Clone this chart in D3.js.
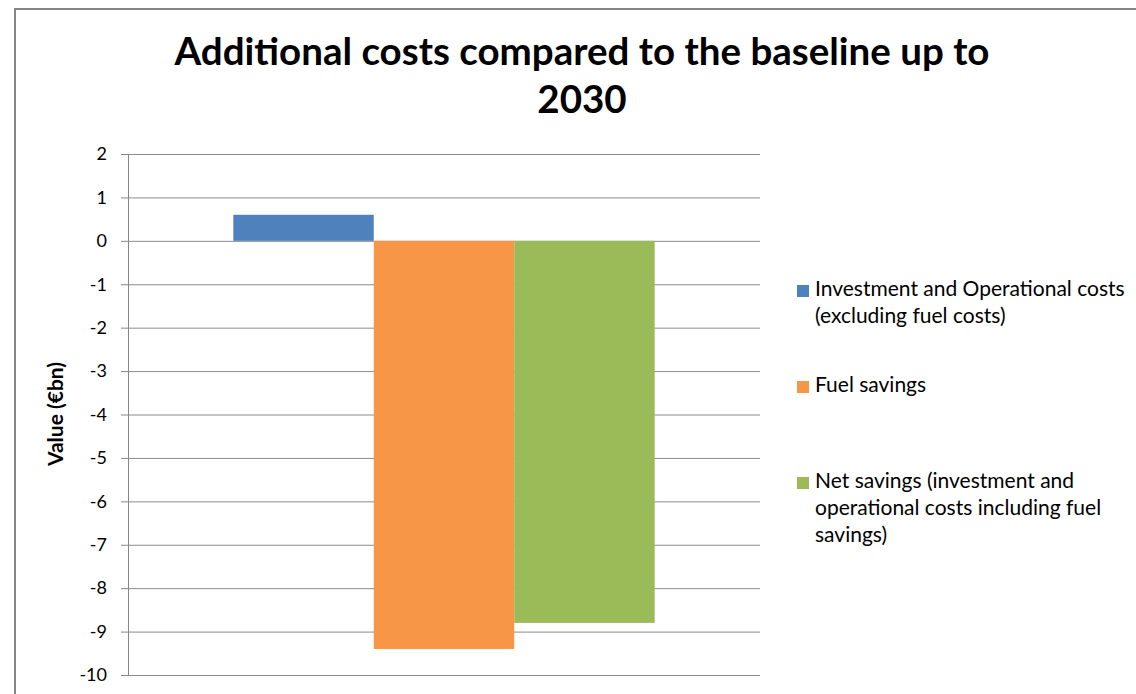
<!DOCTYPE html>
<html>
<head>
<meta charset="utf-8">
<script src="https://cdn.jsdelivr.net/npm/d3@7"></script>
<style>
  body { margin: 0; background: #fff; overflow: hidden; }
  svg { display: block; }
  text { font-family: Lato, "Open Sans", sans-serif; fill: #000; }
</style>
</head>
<body>
<svg id="canvas"></svg>
<script>
const series = [
    "Investment and Operational costs (excluding fuel costs)",
    "Fuel savings",
    "Net savings (investment and operational costs including fuel savings)"
];
const values = [0.6, -9.4, -8.8];
const colors = ["#4f81bd", "#f79646", "#9bbb59"];
const legendLines = [
    ["Investment and Operational costs", "(excluding fuel costs)"],
    ["Fuel savings"],
    ["Net savings (investment and", "operational costs including fuel", "savings)"]
];
const yTicks = [2, 1, 0, -1, -2, -3, -4, -5, -6, -7, -8, -9, -10];
const titleLines = ["Additional costs compared to the baseline up to", "2030"];
const yTitle = "Value (€bn)";

const width = 1136;
const height = 694;
const svg = d3.select("#canvas").attr("width", width).attr("height", height);

// outer chart border (cropped at right/bottom)
svg.append("path")
    .attr("d", `M15,${height + 5} V9 H${width + 5}`)
    .attr("fill", "none")
    .attr("stroke", "#868686")
    .attr("stroke-width", 2);

const margin = { top: 154, left: 128, right: 376, bottom: 19 };
const innerWidth = width - margin.left - margin.right;
const innerHeight = height - margin.top - margin.bottom;

const yScale = d3.scaleLinear().domain([-10, 2]).range([margin.top + innerHeight, margin.top]);
const xScale = d3.scaleBand().domain(series).range([margin.left, margin.left + innerWidth])
    .paddingInner(0).paddingOuter(0.75);

// gridlines + axis
const yAxis = d3.axisLeft(yScale).tickValues(yTicks).tickFormat(d => String(d))
    .tickSize(7).tickSizeOuter(0).tickPadding(14);
const yGroup = svg.append("g").attr("transform", `translate(${margin.left},0)`).call(yAxis);
yGroup.select(".domain").attr("stroke", "#868686");
yGroup.selectAll(".tick line").attr("stroke", "#868686");
yGroup.selectAll(".tick text").style("font-size", "18px").style("font-family", "Lato, sans-serif").attr("fill", "#000");
yGroup.selectAll(".tick line").clone()
    .attr("x1", 0)
    .attr("x2", innerWidth)
    .attr("stroke", "#8c8c8c");

// bars
svg.append("g").selectAll("rect")
    .data(values)
    .join("rect")
    .attr("x", (d, i) => xScale(series[i]))
    .attr("width", xScale.bandwidth())
    .attr("y", d => yScale(Math.max(0, d)))
    .attr("height", d => Math.abs(yScale(d) - yScale(0)))
    .attr("fill", (d, i) => colors[i]);

// title, one text per line
svg.append("g").selectAll("text")
    .data(titleLines)
    .join("text")
    .attr("text-anchor", "middle")
    .style("font-size", "38.5px")
    .style("font-weight", "bold")
    .attr("x", 582)
    .attr("y", (d, i) => 65 + i * 48)
    .text(d => d);

// y title
svg.append("text")
    .attr("transform", `translate(58, 414) rotate(-90)`)
    .attr("text-anchor", "middle")
    .attr("dominant-baseline", "middle")
    .style("font-size", "21px")
    .style("font-weight", "bold")
    .text(yTitle);

// legend
const legendTops = [291, 387, 483];
const lineHeight = 27;
const legend = svg.append("g");
legendLines.forEach((lines, i) => {
    legend.append("rect")
        .attr("x", 797).attr("y", legendTops[i] - 6)
        .attr("width", 12).attr("height", 12)
        .attr("fill", colors[i]);
    legend.selectAll(null)
        .data(lines)
        .join("text")
        .style("font-size", "21px")
        .attr("dominant-baseline", "middle")
        .attr("x", 815)
        .attr("y", (d, j) => legendTops[i] + j * lineHeight)
        .text(d => d);
});
</script>
</body>
</html>
